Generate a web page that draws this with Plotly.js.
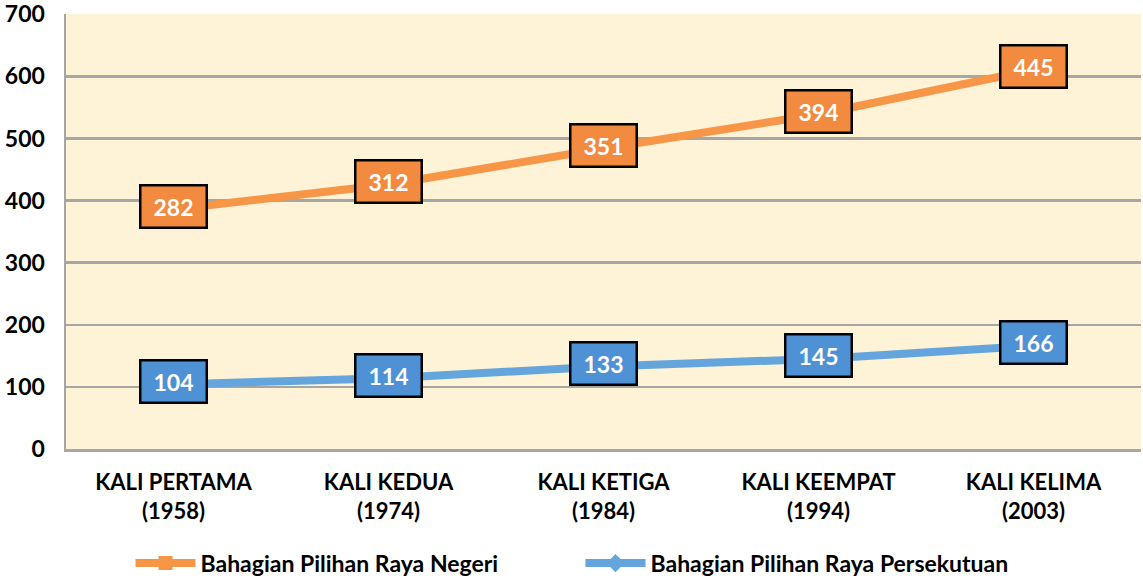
<!DOCTYPE html>
<html>
<head>
<meta charset="utf-8">
<script src="https://cdn.plot.ly/plotly-3.0.1.min.js"></script>
<style>html,body{margin:0;padding:0;background:#fff;}#chart{width:1143px;height:578px;}</style>
</head>
<body>
<div id="chart"></div>
<script>
const categories = ["KALI PERTAMA<br>(1958)", "KALI KEDUA<br>(1974)", "KALI KETIGA<br>(1984)", "KALI KEEMPAT<br>(1994)", "KALI KELIMA<br>(2003)"];
const negeri = [282, 312, 351, 394, 445];
const persekutuan = [104, 114, 133, 145, 166];
const yTicks = [0, 100, 200, 300, 400, 500, 600, 700];

const FONT = "Lato, 'Open Sans', sans-serif";
const orangeLine = "#F79646", blueLine = "#64A5DD";
const orangeBox = "#F28A3F", blueBox = "#4E92D5";

const traceBlue = {
  x: categories, y: persekutuan, name: "Bahagian Pilihan Raya Persekutuan",
  type: "scatter", mode: "lines+markers", stackgroup: "s", fill: "none",
  line: {color: blueLine, width: 8}, marker: {symbol: "diamond", size: 14, color: blueLine},
  legendrank: 2, hoverinfo: "skip"
};
const traceOrange = {
  x: categories, y: negeri, name: "Bahagian Pilihan Raya Negeri",
  type: "scatter", mode: "lines+markers", stackgroup: "s", fill: "none",
  line: {color: orangeLine, width: 8}, marker: {symbol: "square", size: 14, color: orangeLine},
  legendrank: 1, hoverinfo: "skip"
};

const annotations = [];
categories.forEach((c, i) => {
  annotations.push({
    x: c, y: persekutuan[i], xref: "x", yref: "y", yshift: 3, text: String(persekutuan[i]), showarrow: false,
    font: {family: FONT, size: 23, color: "#fff", weight: "bold"},
    bgcolor: blueBox, bordercolor: "#000", borderwidth: 2.5, borderpad: 0, width: 64, height: 40
  });
  annotations.push({
    x: c, y: persekutuan[i] + negeri[i], xref: "x", yref: "y", yshift: 3, text: String(negeri[i]), showarrow: false,
    font: {family: FONT, size: 23, color: "#fff", weight: "bold"},
    bgcolor: orangeBox, bordercolor: "#000", borderwidth: 2.5, borderpad: 0, width: 64, height: 40
  });
});

const layout = {
  width: 1143, height: 578,
  margin: {l: 66, r: 2, t: 14, b: 129, autoexpand: false},
  paper_bgcolor: "#ffffff", plot_bgcolor: "#FEF2D7",
  font: {family: FONT, color: "#000"},
  showlegend: true,
  legend: {orientation: "h", xref: "paper", yref: "paper", x: 0.06, y: -0.213, yanchor: "top", xanchor: "left",
           font: {family: FONT, size: 23, weight: "bold", color: "#000"}, entrywidth: 375, entrywidthmode: "pixels",
           itemwidth: 60},
  xaxis: {
    type: "category", range: [-0.5, 4.5], showgrid: false,
    showline: true, linecolor: "#A6A6A6", linewidth: 2.5, ticks: "",
    tickfont: {family: FONT, size: 22, weight: "bold", color: "#000"}, ticklabelstandoff: 12, fixedrange: true
  },
  yaxis: {
    range: [0, 700.5], tickvals: yTicks, ticktext: yTicks.map(String), ticklabeloverflow: "allow",
    showgrid: true, gridcolor: "#A6A6A6", gridwidth: 2.5, zeroline: false,
    showline: true, linecolor: "#A6A6A6", linewidth: 2.5, ticks: "",
    tickfont: {family: FONT, size: 23, weight: "bold", color: "#000"}, ticklabelstandoff: 14, fixedrange: true
  },
  annotations: annotations
};

Plotly.newPlot("chart", [traceBlue, traceOrange], layout, {displayModeBar: false, staticPlot: true});
</script>
</body>
</html>
